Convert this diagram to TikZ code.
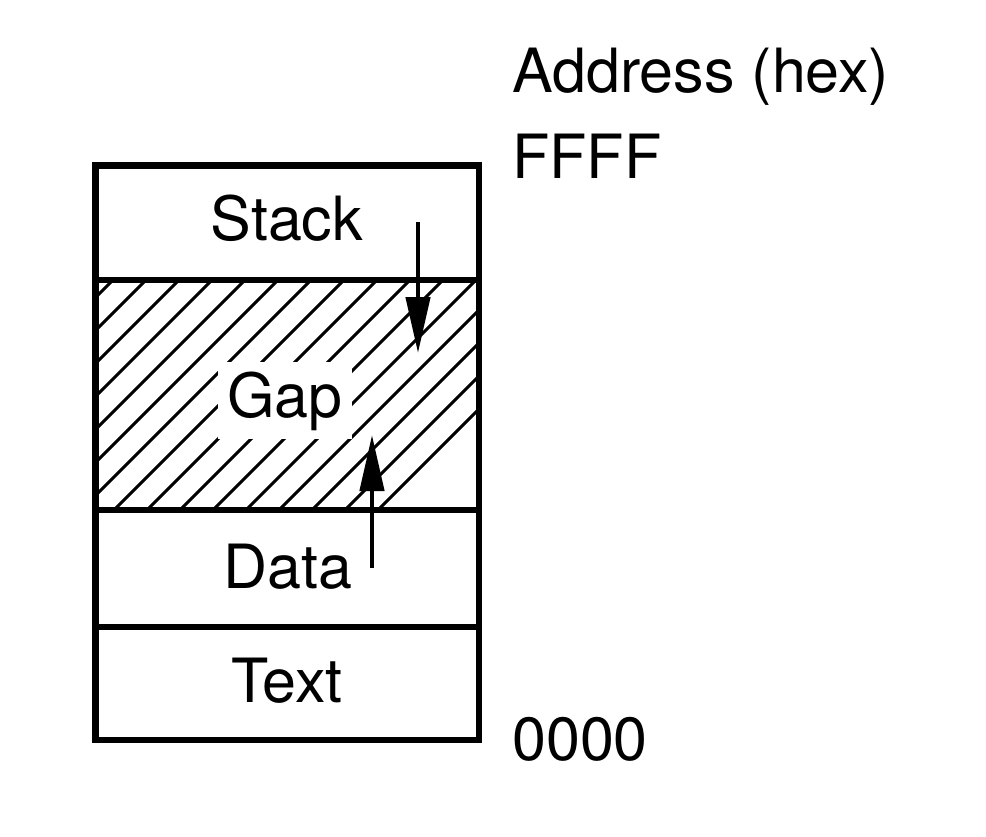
\documentclass[tikz,border=0pt]{standalone}
\usepackage{fontspec}
\setmainfont{TeX Gyre Heros}
\usetikzlibrary{arrows.meta}
\tikzset{
  seg/.style={draw=black, line width=6.5pt},
  hatch/.style={line width=3pt},
  lbl/.style={anchor=base, inner sep=0pt, font=\fontsize{61}{73}\selectfont},
  growarrow/.style={line width=4.5pt, -{Triangle[length=56pt,width=24pt]}},
}
\begin{document}
\begin{tikzpicture}[x=1pt,y=-1pt]
\useasboundingbox (0,0) rectangle (986,836);
% hatching of the gap
\begin{scope}
  \clip (95.5,280) rectangle (479,510);
  \foreach \k in {-12,...,14} {
    \draw[hatch] ({426+33*\k-600},600) -- ({426+33*\k},0);
  }
\end{scope}
% label of the gap with white backing
\node[lbl, fill=white, inner xsep=9pt, inner ysep=9pt] (gap) at (285,417) {Gap};
% segments
\draw[seg] (95.5,165.5) rectangle (479,280);
\draw[seg] (95.5,280) rectangle (479,510);
\draw[seg] (95.5,510) rectangle (479,627);
\draw[seg] (95.5,627) rectangle (479,740);
% segment labels
\node[lbl] (stack) at (287,240) {Stack};
\node[lbl] (data) at (288,588) {Data};
\node[lbl] (text) at (287,702) {Text};
% addresses
\node[lbl, anchor=base west] (addr) at (512,92) {Address (hex)};
\node[lbl, anchor=base west] (ffff) at (512,178) {FFFF};
\node[lbl, anchor=base west] (zero) at (512,760) {0000};
% growth arrows
\coordinate (stackstart) at (418,222);
\coordinate (stackend) at (418,353);
\coordinate (datastart) at (372,568);
\coordinate (dataend) at (372,435);
\draw[growarrow] (stackstart) -- (stackend);
\draw[growarrow] (datastart) -- (dataend);
\end{tikzpicture}
\end{document}
